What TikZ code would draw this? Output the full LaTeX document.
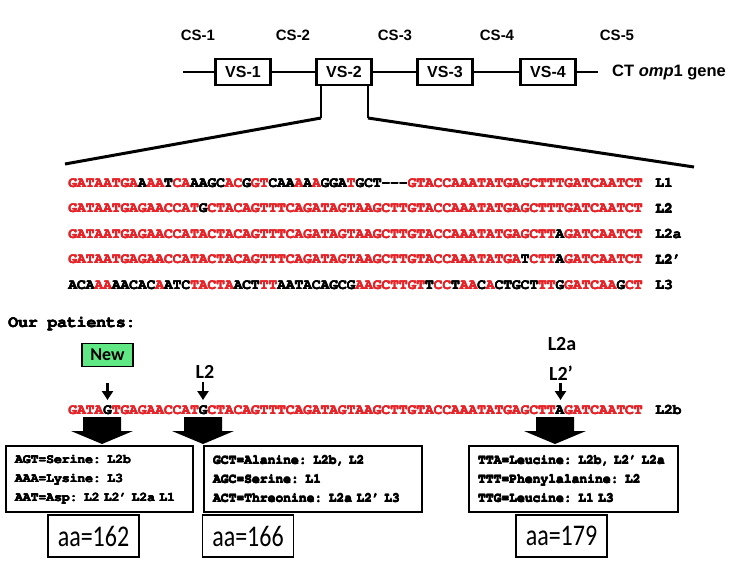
\documentclass[tikz,border=0pt]{standalone}
\usepackage[T1]{fontenc}
\usepackage{fontspec}
\usepackage{graphicx}
\usetikzlibrary{arrows.meta,calc}
\setmainfont{Liberation Sans}
\newfontfamily\calf{Carlito}
\newcommand\cour{\fontencoding{T1}\fontfamily{pcr}\fontseries{b}\fontshape{n}}
\definecolor{seqred}{RGB}{230,35,40}
\definecolor{newgreen}{RGB}{96,232,132}
\newcommand\Rd[1]{\textcolor{seqred}{#1}}
\newcommand\dsh{-\kern0pt-\kern0pt-}
\newcommand\pr{\textquoteright}
\newcommand\hv[1]{\leavevmode\rlap{#1}\kern0.6pt\rlap{#1}\kern-0.3pt\rlap{\raisebox{0.3pt}{#1}}\kern-0.3pt#1}
\begin{document}
\begin{tikzpicture}[x=1pt,y=-1pt,
  seq/.style={anchor=west,inner sep=0pt,font=\cour\fontsize{14.5}{17}\selectfont},
  cs/.style={inner sep=0pt,font=\bfseries\fontsize{15}{18}\selectfont},
  vsbox/.style={draw,fill=white,line width=2.2pt,minimum width=55pt,minimum height=26pt,inner sep=0pt,font=\bfseries\fontsize{16}{18}\selectfont},
  gene/.style={line width=2pt},
  brk/.style={line width=2pt},
  diag/.style={line width=3pt},
  info/.style={draw,line width=1.8pt,anchor=north west,align=left,inner xsep=9pt,inner ysep=0pt,minimum height=66pt,font=\cour\fontsize{13}{19}\selectfont},
  aabox/.style={draw,line width=1.6pt,minimum width=91pt,minimum height=42pt,inner sep=0pt,font=\calf\fontsize{30}{32}\selectfont},
  callab/.style={font=\calf\bfseries\fontsize{20}{22}\selectfont,inner sep=0pt},
  arr/.style={line width=2.4pt,-{Triangle[width=11pt,length=9pt]}}
]
\useasboundingbox (0,0) rectangle (750,563);

% ---- gene map ----
\node[cs] (cs1) at (198,35) {CS-1};
\node[cs] (cs2) at (293,35) {CS-2};
\node[cs] (cs3) at (395,35) {CS-3};
\node[cs] (cs4) at (497,35) {CS-4};
\node[cs] (cs5) at (617,35) {CS-5};

\coordinate (gl) at (183,72);
\coordinate (gr) at (598,72);
\node[vsbox] (vs1) at (243,72) {VS-1};
\node[vsbox] (vs2) at (344,72) {VS-2};
\node[vsbox] (vs3) at (445,72) {VS-3};
\node[vsbox] (vs4) at (548,72) {VS-4};
\draw[gene] (gl) -- (vs1.west);
\draw[gene] (vs1.east) -- (vs2.west);
\draw[gene] (vs2.east) -- (vs3.west);
\draw[gene] (vs3.east) -- (vs4.west);
\draw[gene] (vs4.east) -- (gr);
\node[anchor=west,inner sep=0pt,font=\bfseries\fontsize{16.5}{18}\selectfont] (ct) at (612,72) {CT \textit{omp}1 gene};

\coordinate (bl) at (321,118);
\coordinate (br) at (368,118);
\coordinate (dl) at (65,164);
\coordinate (dr) at (694,167);
\draw[brk] (vs2.south -| bl) -- (bl);
\draw[brk] (vs2.south -| br) -- (br);
\draw[diag] (bl) -- (dl);
\draw[diag] (br) -- (dr);

% ---- alignment ----
\node[seq] (s1) at (68,183) {\hv{\Rd{GATAATGA}A\Rd{AA}T\Rd{CA}AAGC\Rd{AC}G\Rd{GT}CAA\Rd{A}A\Rd{A}GGA\Rd{T}GCT\dsh\Rd{GTACCAAATATGAGCTTTGATCAATCT}}};
\node[seq] (s2) at (68,208.5) {\hv{\Rd{GATAATGAGAACCAT}G\Rd{CTACAGTTTCAGATAGTAAGCTTGTACCAAATATGAGCTTTGATCAATCT}}};
\node[seq] (s3) at (68,234) {\hv{\Rd{GATAATGAGAACCATACTACAGTTTCAGATAGTAAGCTTGTACCAAATATGAGCTT}A\Rd{GATCAATCT}}};
\node[seq] (s4) at (68,259.5) {\hv{\Rd{GATAATGAGAACCATACTACAGTTTCAGATAGTAAGCTTGTACCAAATATGA}T\Rd{CTT}A\Rd{GATCAATCT}}};
\node[seq] (s5) at (68,285) {\hv{ACA\Rd{AA}AACAC\Rd{A}ATC\Rd{TACTA}ACT\Rd{TT}AATACAGCG\Rd{AAGCTTGT}T\Rd{CC}T\Rd{AA}C\Rd{A}CTGCT\Rd{TT}G\Rd{GATCAA}G\Rd{CT}}};
\node[seq] (t1) at (655,183) {\hv{L1}};
\node[seq] (t2) at (655,208.5) {\hv{L2}};
\node[seq] (t3) at (655,234) {\hv{L2a}};
\node[seq] (t4) at (655,259.5) {\hv{L2\pr}};
\node[seq] (t5) at (655,285) {\hv{L3}};

% ---- our patients ----
\node[anchor=west,inner sep=0pt,font=\cour\fontsize{16.3}{18}\selectfont] (op) at (8,323) {\hv{Our patients:}};

\node[draw,fill=newgreen,line width=1.4pt,minimum width=51pt,minimum height=23pt,inner sep=0pt,font=\calf\bfseries\fontsize{18}{20}\selectfont] (new) at (107.5,355) {New};
\node[callab] (lab2) at (205,372) {L2};
\node[callab] (lab2a) at (562,344) {L2a};
\node[callab] (lab2p) at (561,373) {L2’};

\node[seq] (s6) at (68,410) {\hv{\Rd{GATA}G\Rd{TGAGAACCAT}G\Rd{CTACAGTTTCAGATAGTAAGCTTGTACCAAATATGAGCTT}A\Rd{GATCAATCT}}};
\node[seq] (t6) at (655,410) {\hv{L2b}};

\coordinate (a1) at (107.5,400);
\coordinate (a2) at (203,400);
\coordinate (a3) at (560.5,400);
\draw[arr,shorten <=16pt] (new.south) -- (a1);
\draw[arr,shorten <=3pt] (lab2.south -| a2) -- (a2);
\draw[arr,shorten <=3pt] (lab2p.south -| a3) -- (a3);

% ---- block arrows ----
\foreach \cx in {102,203,555}{
  \fill (\cx-19,417) -- (\cx+19,417) -- (\cx+19,431) -- (\cx+31,431) -- (\cx,444) -- (\cx-31,431) -- (\cx-19,431) -- cycle;
}

% ---- codon boxes ----
\node[info,text width=169pt] (b1) at (5,445) {\hv{AGT=Serine: L2b}\\\hv{AAA=Lysine: L3}\\\hv{AAT=Asp: L2 L2\pr{} L2a L1}};
\node[info,text width=200pt] (b2) at (203,445) {\hv{GCT=Alanine: L2b, L2}\\\hv{AGC=Serine: L1}\\\hv{ACT=Threonine: L2a L2\pr{} L3}};
\node[info,text width=191pt] (b3) at (468,445) {\hv{TTA=Leucine: L2b, L2\pr{} L2a}\\\hv{TTT=Phenylalanine: L2}\\\hv{TTG=Leucine: L1 L3}};

% ---- positions ----
\node[aabox] (p1) at (93.5,536) {\scalebox{0.8}[1]{aa=162}};
\node[aabox] (p2) at (248,536) {\scalebox{0.8}[1]{aa=166}};
\node[aabox] (p3) at (561.5,536) {\scalebox{0.8}[1]{aa=179}};
\end{tikzpicture}
\end{document}
